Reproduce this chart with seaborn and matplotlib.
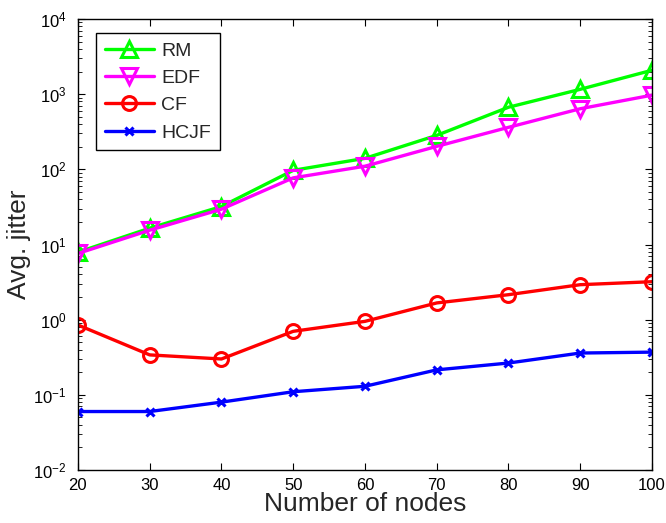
import matplotlib
matplotlib.use("Agg")
import matplotlib.pyplot as plt
import seaborn as sns
import pandas as pd
import numpy as np
from matplotlib.ticker import LogLocator, NullFormatter, LogFormatterSciNotation

nodes = [20, 30, 40, 50, 60, 70, 80, 90, 100]
rm = [7.9, 16.5, 32, 97, 140, 283, 670, 1160, 2080]
edf = [7.6, 15.5, 29.5, 77, 110, 202, 362, 640, 970]
cf = [0.85, 0.34, 0.30, 0.70, 0.95, 1.67, 2.15, 2.92, 3.2]
hcjf = [0.06, 0.06, 0.08, 0.11, 0.13, 0.215, 0.265, 0.36, 0.37]
y_ticks = [1e-2, 1e-1, 1e0, 1e1, 1e2, 1e3, 1e4]

series_names = ["RM", "EDF", "CF", "HCJF"]
series_vals = [rm, edf, cf, hcjf]
colors = ["#00ff00", "#ff00ff", "#ff0000", "#0000ff"]
markers = ["^", "v", "o", "x"]
msizes = [11, 11, 10, 6]

sns.set_style("ticks")
plt.rcParams["font.family"] = ["Liberation Sans", "DejaVu Sans"]
plt.rcParams["mathtext.fontset"] = "custom"
plt.rcParams["mathtext.rm"] = "Liberation Sans"
plt.rcParams["mathtext.it"] = "Liberation Sans:italic"

fig = plt.figure(figsize=(6.66, 5.23), dpi=100)
ax = fig.add_axes([0.117, 0.1013, 0.862, 0.8624])

for name, vals, c, m, ms in zip(series_names, series_vals, colors, markers, msizes):
    df = pd.DataFrame({"x": nodes, "y": vals})
    sns.lineplot(data=df, x="x", y="y", ax=ax, color=c, linewidth=2.4,
                 marker=m, markersize=ms, markerfacecolor="none",
                 markeredgecolor=c, markeredgewidth=2.2, label=name)

ax.set_yscale("log")
ax.set_ylim(1e-2, 1e4)
ax.set_xlim(20, 100)
ax.set_xticks(nodes)
ax.set_yticks(y_ticks)
ax.yaxis.set_major_formatter(LogFormatterSciNotation())
minor = [m * 10.0 ** e for e in range(-2, 4) for m in range(2, 10)]
ax.set_yticks(minor, minor=True)
ax.yaxis.set_minor_formatter(NullFormatter())
ax.set_ylim(1e-2, 1e4)
ax.tick_params(which="both", direction="in", top=True, right=True, labelsize=12, colors="black")
ax.tick_params(which="major", length=5, width=0.8)
ax.tick_params(which="minor", length=3, width=0.6)
ax.tick_params(axis="x", pad=6)
ax.tick_params(axis="y", pad=8)
for s in ax.spines.values():
    s.set_linewidth(1.0)
    s.set_color("black")

ax.set_xlabel("Number of nodes", fontsize=19, labelpad=-1)
ax.set_ylabel("Avg. jitter", fontsize=19, labelpad=2)

leg = ax.legend(loc="upper left", bbox_to_anchor=(0.015, 0.99), fontsize=14,
                frameon=True, fancybox=False, framealpha=1, edgecolor="black",
                handlelength=2.5, borderpad=0.45, labelspacing=0.5, handletextpad=0.4)
leg.get_frame().set_linewidth(1.0)

fig.savefig("out.png", dpi=100)
